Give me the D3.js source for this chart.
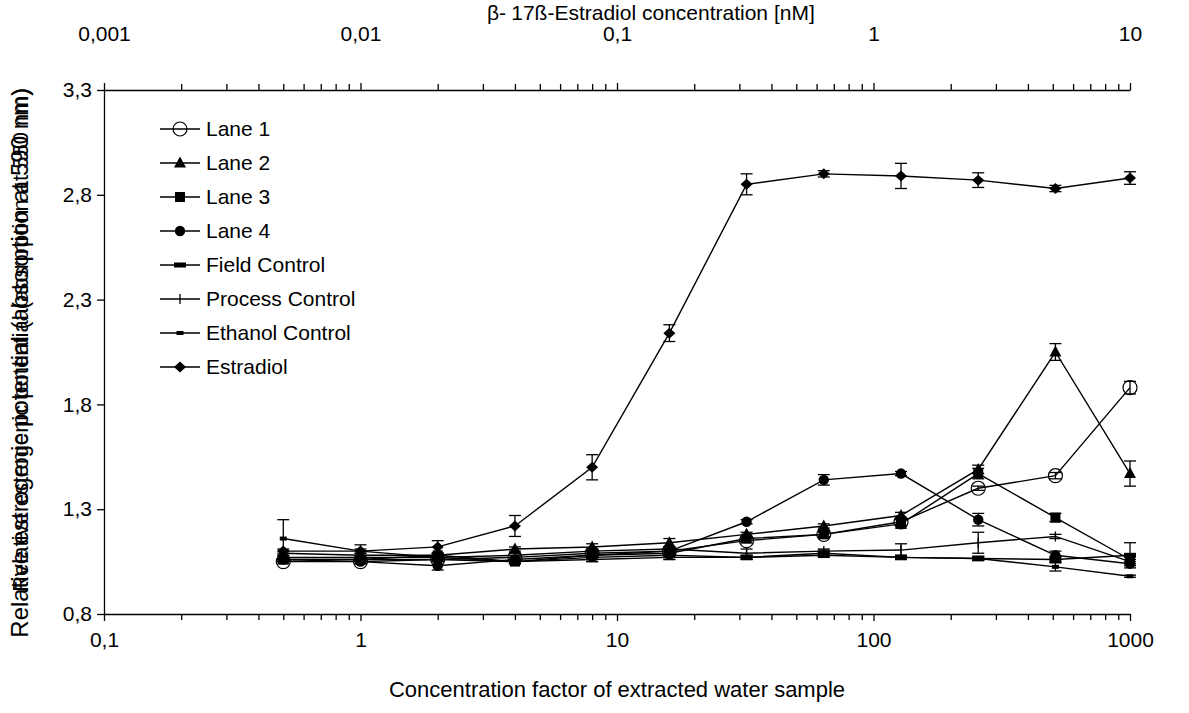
<!DOCTYPE html>
<html>
<head>
<meta charset="utf-8">
<script src="https://cdn.jsdelivr.net/npm/d3@7"></script>
<style>
body { margin: 0; background: #fff; }
svg text { font-family: "Liberation Sans", Arial, sans-serif; fill: #000; }
</style>
</head>
<body>
<div id="chart"></div>
<script>
// concentration factors (bottom axis) and matching estradiol concentrations (top axis, nM)
var factors = [0.5, 1, 2, 4, 8, 16, 32, 64, 128, 256, 512, 1000];
var estradiolConc = [0.005, 0.01, 0.02, 0.04, 0.08, 0.16, 0.32, 0.64, 1.28, 2.56, 5.12, 10];

var lane1 = [1.05, 1.05, 1.06, 1.07, 1.09, 1.10, 1.15, 1.18, 1.24, 1.40, 1.46, 1.88];
var lane1Err = [0.01, 0.01, 0.01, 0.01, 0.01, 0.01, 0.01, 0.015, 0.02, 0.01, 0.015, 0.03];
var lane2 = [1.09, 1.08, 1.08, 1.11, 1.12, 1.14, 1.18, 1.22, 1.27, 1.49, 2.05, 1.47];
var lane2Err = [0.01, 0.01, 0.01, 0.01, 0.015, 0.02, 0.01, 0.01, 0.015, 0.02, 0.04, 0.06];
var lane3 = [1.06, 1.06, 1.08, 1.05, 1.08, 1.09, 1.16, 1.18, 1.23, 1.47, 1.26, 1.06];
var lane3Err = [0.01, 0.01, 0.01, 0.01, 0.02, 0.02, 0.01, 0.01, 0.02, 0.025, 0.02, 0.02];
var lane4 = [1.06, 1.05, 1.03, 1.06, 1.08, 1.10, 1.24, 1.44, 1.47, 1.25, 1.08, 1.04];
var lane4Err = [0.01, 0.01, 0.02, 0.01, 0.01, 0.01, 0.01, 0.025, 0.01, 0.03, 0.02, 0.01];
var fieldCtrl = [1.06, 1.06, 1.06, 1.05, 1.07, 1.08, 1.07, 1.09, 1.07, 1.065, 1.06, 1.08];
var fieldCtrlErr = [0.01, 0.01, 0.01, 0.01, 0.02, 0.02, 0.01, 0.015, 0.01, 0.01, 0.015, 0.06];
var processCtrl = [1.07, 1.07, 1.07, 1.08, 1.10, 1.11, 1.09, 1.10, 1.105, 1.14, 1.17, 1.05];
var processCtrlErr = [0.01, 0.01, 0.01, 0.01, 0.01, 0.01, 0.02, 0.01, 0.03, 0.05, 0.01, 0.01];
var ethanolCtrl = [1.16, 1.10, 1.07, 1.05, 1.06, 1.07, 1.07, 1.08, 1.07, 1.065, 1.025, 0.98];
var ethanolCtrlErr = [0.09, 0.01, 0.01, 0.01, 0.01, 0.01, 0.01, 0.01, 0.01, 0.01, 0.02, 0.005];
var estradiol = [1.10, 1.10, 1.12, 1.22, 1.50, 2.14, 2.85, 2.90, 2.89, 2.87, 2.83, 2.88];
var estradiolErr = [0.01, 0.03, 0.03, 0.05, 0.06, 0.04, 0.05, 0.015, 0.06, 0.035, 0.015, 0.03];

var yTicks = [0.8, 1.3, 1.8, 2.3, 2.8, 3.3];
var bottomTicks = [0.1, 1, 10, 100, 1000];
var topTicks = [0.001, 0.01, 0.1, 1, 10];

var series = [
	{name: "Lane 1", x: factors, v: lane1, e: lane1Err, mark: "ocircle", onTop: false},
	{name: "Lane 2", x: factors, v: lane2, e: lane2Err, mark: "triangle", onTop: false},
	{name: "Lane 3", x: factors, v: lane3, e: lane3Err, mark: "square", onTop: false},
	{name: "Lane 4", x: factors, v: lane4, e: lane4Err, mark: "circle", onTop: false},
	{name: "Field Control", x: factors, v: fieldCtrl, e: fieldCtrlErr, mark: "dash", onTop: false},
	{name: "Process Control", x: factors, v: processCtrl, e: processCtrlErr, mark: "vbar", onTop: false},
	{name: "Ethanol Control", x: factors, v: ethanolCtrl, e: ethanolCtrlErr, mark: "small", onTop: false},
	{name: "Estradiol", x: estradiolConc, v: estradiol, e: estradiolErr, mark: "diamond", onTop: true}
];

var W = 1189, H = 713;
var pLeft = 104, pRight = 1130, pTop = 90, pBottom = 614;

var svg = d3.select("#chart").append("svg")
	.attr("width", W)
	.attr("height", H);

var x = d3.scaleLog().domain([0.1, 1000]).range([pLeft, pRight]);
var xTop = d3.scaleLog().domain([0.001, 10]).range([pLeft, pRight]);
var y = d3.scaleLinear().domain([0.8, 3.3]).range([pBottom, pTop]);

function comma(d) { return String(d).replace(".", ","); }

function minors(lo, hi) {
	var out = [];
	for (var p = lo; p < hi * 0.99; p *= 10) {
		for (var k = 2; k <= 9; k++) out.push(p * k);
	}
	return out;
}

function styleAxis(g) {
	g.selectAll("path, line").attr("stroke", "#000").attr("stroke-width", 1.3);
	g.selectAll("text").style("font-size", "21px").attr("fill", "#000");
}

//bottom axis
svg.append("g")
	.attr("transform", "translate(0," + pBottom + ")")
	.call(d3.axisBottom(x).tickValues(minors(0.1, 1000)).tickSize(6).tickFormat(""))
	.call(function(g){ g.select(".domain").remove(); })
	.call(styleAxis);
var bx = svg.append("g")
	.attr("transform", "translate(0," + pBottom + ")")
	.call(d3.axisBottom(x).tickValues(bottomTicks).tickSize(7).tickSizeOuter(0).tickFormat(comma))
	.call(styleAxis);
bx.selectAll("text").attr("y", 18);

//top axis
svg.append("g")
	.attr("transform", "translate(0," + pTop + ")")
	.call(d3.axisTop(xTop).tickValues(minors(0.001, 10)).tickSize(6).tickFormat(""))
	.call(function(g){ g.select(".domain").remove(); })
	.call(styleAxis);
var tx = svg.append("g")
	.attr("transform", "translate(0," + pTop + ")")
	.call(d3.axisTop(xTop).tickValues(topTicks).tickSize(7).tickSizeOuter(0).tickFormat(comma))
	.call(styleAxis);
tx.selectAll("text").attr("y", -49);

//axis titles
svg.append("text")
	.attr("x", (pLeft + pRight) / 2)
	.attr("y", 697)
	.attr("text-anchor", "middle")
	.style("font-size", "22px")
	.text("Concentration factor of extracted water sample");

svg.append("text")
	.attr("x", 663)
	.attr("y", 20)
	.attr("text-anchor", "middle")
	.style("font-size", "21px")
	.text("17ß-Estradiol concentration [nM]");
svg.append("text")
	.attr("x", 487)
	.attr("y", 20)
	.style("font-size", "21px")
	.text("β-");

//y axis
var yx = svg.append("g")
	.attr("transform", "translate(" + pLeft + ",0)")
	.call(d3.axisLeft(y).tickValues(yTicks).tickSize(7).tickSizeOuter(0)
		.tickFormat(function(d){ return d3.format(".1f")(d).replace(".", ","); }))
	.call(styleAxis);
yx.selectAll("text").attr("x", -12);

svg.append("text")
	.attr("transform", "translate(28,88) rotate(-90)")
	.attr("text-anchor", "end")
	.style("font-size", "22px")
	.text("Relative estrogenic potential (absorption at 550 nm)");
svg.append("text")
	.attr("transform", "translate(28,88) rotate(-90)")
	.attr("text-anchor", "end")
	.style("font-size", "24px")
	.text("Relative estrogenic potential (absorption at 590 nm)");

function px(s, i) { return s.onTop ? xTop(s.x[i]) : x(s.x[i]); }

function drawMark(g, type, cx, cy) {
	if (type == "ocircle") {
		g.append("circle").attr("cx", cx).attr("cy", cy).attr("r", 7)
			.attr("fill", "none").attr("stroke", "#000").attr("stroke-width", 1.2);
	} else if (type == "circle") {
		g.append("circle").attr("cx", cx).attr("cy", cy).attr("r", 5.2).attr("fill", "#000");
	} else if (type == "triangle") {
		g.append("path").attr("d", "M" + cx + "," + (cy - 6.5) + "L" + (cx + 6) + "," + (cy + 4.5) + "L" + (cx - 6) + "," + (cy + 4.5) + "Z")
			.attr("fill", "#000");
	} else if (type == "square") {
		g.append("rect").attr("x", cx - 5).attr("y", cy - 5).attr("width", 10).attr("height", 10).attr("fill", "#000");
	} else if (type == "dash") {
		g.append("rect").attr("x", cx - 6).attr("y", cy - 2.5).attr("width", 12).attr("height", 5).attr("fill", "#000");
	} else if (type == "vbar") {
		g.append("line").attr("x1", cx).attr("x2", cx).attr("y1", cy - 5).attr("y2", cy + 5)
			.attr("stroke", "#000").attr("stroke-width", 1.3);
	} else if (type == "small") {
		g.append("rect").attr("x", cx - 3.5).attr("y", cy - 2).attr("width", 7).attr("height", 4).attr("fill", "#000");
	} else if (type == "diamond") {
		g.append("path").attr("d", "M" + cx + "," + (cy - 5.5) + "L" + (cx + 6) + "," + cy + "L" + cx + "," + (cy + 5.5) + "L" + (cx - 6) + "," + cy + "Z")
			.attr("fill", "#000");
	}
}

var plot = svg.append("g");

series.forEach(function(s){
	var line = d3.line()
		.x(function(d, i){ return px(s, i); })
		.y(function(d){ return y(d); });
	plot.append("path")
		.datum(s.v)
		.attr("d", line)
		.attr("fill", "none")
		.attr("stroke", "#000")
		.attr("stroke-width", 1.4);
});

series.forEach(function(s){
	var g = plot.append("g");
	s.v.forEach(function(v, i){
		var cx = px(s, i), y1 = y(v + s.e[i]), y2 = y(v - s.e[i]);
		g.append("line").attr("x1", cx).attr("x2", cx).attr("y1", y1).attr("y2", y2)
			.attr("stroke", "#000").attr("stroke-width", 1.3);
		[y1, y2].forEach(function(yy){
			g.append("line").attr("x1", cx - 6).attr("x2", cx + 6).attr("y1", yy).attr("y2", yy)
				.attr("stroke", "#000").attr("stroke-width", 1.3);
		});
	});
});

series.forEach(function(s){
	var g = plot.append("g");
	s.v.forEach(function(v, i){ drawMark(g, s.mark, px(s, i), y(v)); });
});

//legend
var leg = svg.append("g");
series.forEach(function(s, i){
	var ly = 129 + i * 34;
	leg.append("line").attr("x1", 160).attr("x2", 200).attr("y1", ly).attr("y2", ly)
		.attr("stroke", "#000").attr("stroke-width", 1.3);
	drawMark(leg, s.mark, 180, ly);
	leg.append("text")
		.attr("x", 206)
		.attr("y", ly)
		.attr("dy", ".35em")
		.style("font-size", "21px")
		.text(s.name);
});
</script>
</body>
</html>
